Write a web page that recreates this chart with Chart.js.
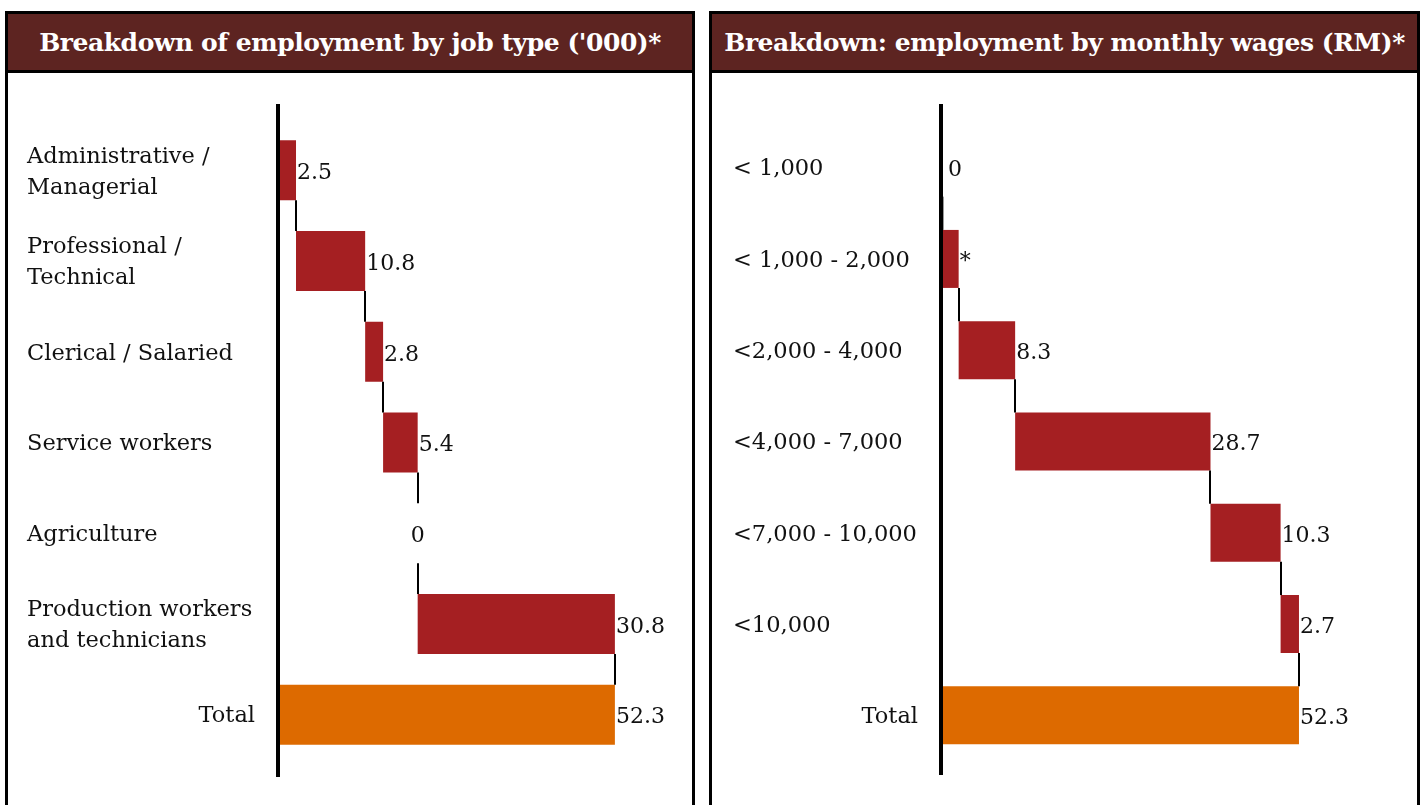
<!DOCTYPE html>
<html>
<head>
<meta charset="utf-8">
<script src="https://cdn.jsdelivr.net/npm/chart.js@4.4.1/dist/chart.umd.min.js"></script>
<style>
  body { margin: 0; width: 1420px; height: 805px; background: #fff; position: relative; overflow: hidden; }
  .panel { position: absolute; top: 11px; height: 830px; border: 3px solid #000; box-sizing: border-box; background: #fff; }
  .head { height: 56px; background: #5d2421; border-bottom: 3px solid #000; color: #fff;
          font: bold 25px 'DejaVu Serif', Georgia, serif; letter-spacing: -0.45px;
          display: flex; align-items: center; justify-content: center; white-space: nowrap; }
  canvas { display: block; }
</style>
</head>
<body>
<div class="panel" style="left:5px;width:690px">
  <div class="head">Breakdown of employment by job type ('000)*</div>
  <canvas id="jobChart" width="684" height="732"></canvas>
</div>
<div class="panel" style="left:709px;width:711px">
  <div class="head">Breakdown: employment by monthly wages (RM)*</div>
  <canvas id="wageChart" width="705" height="732"></canvas>
</div>
<script>
// Chart data
const jobCategories = [['Administrative /', 'Managerial'], ['Professional /', 'Technical'], 'Clerical / Salaried',
  'Service workers', 'Agriculture', ['Production workers', 'and technicians'], 'Total'];
const jobValues = [2.5, 10.8, 2.8, 5.4, 0, 30.8];
const jobTotal = 52.3;
const jobValueLabels = ['2.5', '10.8', '2.8', '5.4', '0', '30.8', '52.3'];

const wageCategories = ['< 1,000', '< 1,000 - 2,000', '<2,000 - 4,000', '<4,000 - 7,000',
  '<7,000 - 10,000', '<10,000', 'Total'];
const wageValues = [0, 2.3, 8.3, 28.7, 10.3, 2.7];
const wageTotal = 52.3;
const wageValueLabels = ['0', '*', '8.3', '28.7', '10.3', '2.7', '52.3'];

const FONT = "'DejaVu Serif', Georgia, serif";
const RED = '#a51f22';
const ORANGE = '#dd6a00';

// turn step values into floating [start, end] ranges, total last
function buildRanges(values, total) {
  let run = 0;
  const out = values.map(v => { const r = [run, run + v]; run += v; return r; });
  out.push([0, total]);
  return out;
}

const waterfallPlugin = {
  id: 'waterfall',
  afterDatasetsDraw(chart, args, opts) {
    const ctx = chart.ctx;
    const xs = chart.scales.x, ys = chart.scales.y;
    const area = chart.chartArea;
    const bars = chart.getDatasetMeta(0).data;
    const ranges = chart.data.datasets[0].data;
    ctx.save();

    // vertical axis line
    ctx.fillStyle = '#000';
    ctx.fillRect(area.left - 4, opts.axisTop, 4, opts.axisBottom - opts.axisTop);

    // connectors between steps
    for (let i = 0; i < bars.length - 1; i++) {
      const b = bars[i].getProps(['y', 'height'], true);
      const n = bars[i + 1].getProps(['y', 'height'], true);
      const px = Math.round(xs.getPixelForValue(ranges[i][1]));
      const first = i === 0 && opts.firstLinkColor;
      ctx.strokeStyle = first ? opts.firstLinkColor : '#000';
      ctx.lineWidth = first ? 1 : 2;
      ctx.beginPath();
      ctx.moveTo(first ? px + 0.5 : px, b.y + b.height / 2);
      ctx.lineTo(first ? px + 0.5 : px, n.y - n.height / 2);
      ctx.stroke();
    }

    // value labels
    ctx.fillStyle = '#111';
    ctx.font = '22px ' + FONT;
    ctx.textBaseline = 'middle';
    bars.forEach((bar, i) => {
      const r = ranges[i];
      const px = xs.getPixelForValue(r[1]);
      const zero = r[1] === r[0] && i < bars.length - 1;
      ctx.textAlign = zero ? 'center' : 'left';
      ctx.fillText(opts.valueLabels[i], zero ? px + opts.zeroShift : px + 1, bar.y + 3);
    });

    // category labels
    ctx.font = '22.5px ' + FONT;
    chart.data.labels.forEach((lab, i) => {
      const cy = ys.getPixelForValue(i);
      const lines = Array.isArray(lab) ? lab : [lab];
      const isTotal = i === chart.data.labels.length - 1;
      ctx.textAlign = isTotal ? 'right' : 'left';
      const lx = isTotal ? area.left - 25 : opts.labelX;
      lines.forEach((t, k) => {
        ctx.fillText(t, lx, cy + 2 + (k - (lines.length - 1) / 2) * 31);
      });
    });
    ctx.restore();
  }
};

function makeChart(id, categories, values, total, valueLabels, pad, extra) {
  const ranges = buildRanges(values, total);
  const colors = ranges.map((r, i) => i === ranges.length - 1 ? ORANGE : RED);
  return new Chart(document.getElementById(id), {
    type: 'bar',
    data: {
      labels: categories,
      datasets: [{ data: ranges, backgroundColor: colors, borderWidth: 0, inflateAmount: 0,
        barThickness: extra.thickness, borderSkipped: false }]
    },
    plugins: [waterfallPlugin],
    options: {
      indexAxis: 'y',
      responsive: false,
      animation: false,
      devicePixelRatio: 1,
      layout: { padding: pad },
      scales: {
        x: { display: false, min: 0, max: 62 },
        y: { display: false, offset: true }
      },
      plugins: {
        legend: { display: false },
        tooltip: { enabled: false },
        waterfall: Object.assign({ valueLabels: valueLabels }, extra)
      }
    }
  });
}

makeChart('jobChart', jobCategories, jobValues, jobTotal, jobValueLabels,
  { left: 272, right: 15, top: 52, bottom: 45 },
  { thickness: 60, axisTop: 31, axisBottom: 704, labelX: 19, zeroShift: 0 });

makeChart('wageChart', wageCategories, wageValues, wageTotal, wageValueLabels,
  { left: 231, right: 52, top: 49, bottom: 44 },
  { thickness: 58, axisTop: 31, axisBottom: 702, labelX: 21, zeroShift: 12, firstLinkColor: '#999' });
</script>
</body>
</html>
